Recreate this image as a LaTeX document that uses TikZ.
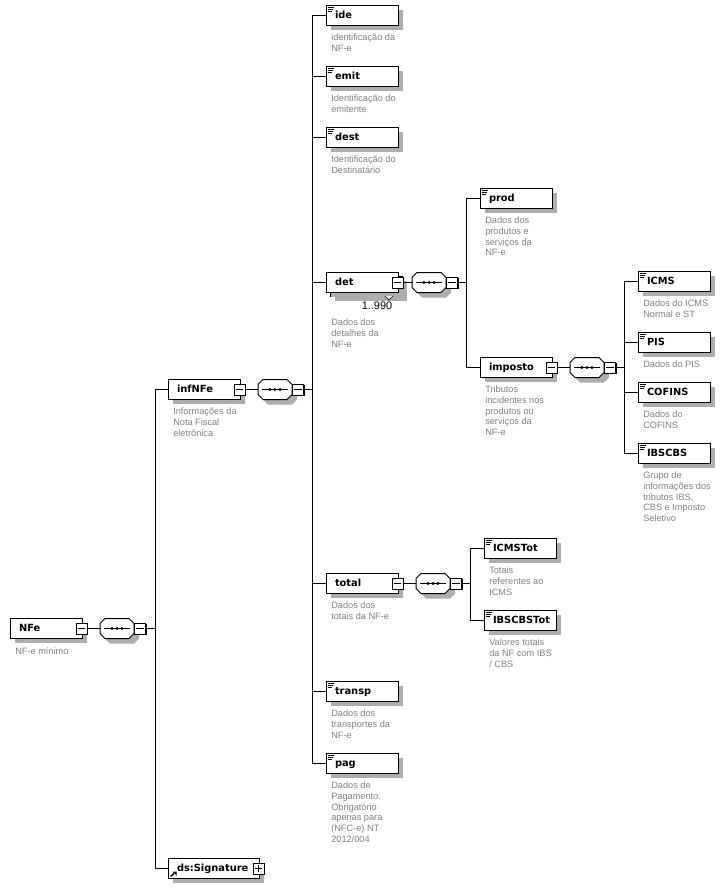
\documentclass[tikz,border=0pt]{standalone}
\usepackage{fontspec}
\setmainfont{Liberation Sans}
\newfontfamily\elemfont{DejaVu Sans}
\usetikzlibrary{shadows}
\newcommand{\seqshape}[1]{
	\begin{scope}[shift={(#1.center)}]
		\fill[black!32] (-7,-5) -- (17,-5) -- (22,0) -- (22,10) -- (17,15) -- (-7,15) -- (-12,10) -- (-12,0) -- cycle;
		\draw[conn,fill=white] (-12,-10) -- (12,-10) -- (17,-5) -- (17,5) -- (12,10) -- (-12,10) -- (-17,5) -- (-17,-5) -- cycle;
		\draw[conn] (-13,0) -- (13,0);
		\fill (-5,0) circle (1.2pt);
		\fill (0,0) circle (1.2pt);
		\fill (5,0) circle (1.2pt);
	\end{scope}
}
\tikzset{
	elem/.style={draw,fill=white,line width=.75pt,anchor=north west,outer sep=0pt,inner ysep=0pt,inner xsep=6.75pt,
		minimum width=54pt,minimum height=15pt,text width=40.5pt,text height=6.3pt,text depth=1pt,align=left,
		font=\elemfont\bfseries\fontsize{7.4}{9}\selectfont,
		drop shadow={shadow xshift=3.75pt,shadow yshift=-3.75pt,fill=black!32,opacity=1}},
	annot/.style={path picture={
		\draw[line width=.6pt] ([xshift=1.2pt,yshift=-1.5pt]path picture bounding box.north west) -- ++(4.5pt,0);
		\draw[line width=.6pt] ([xshift=1.2pt,yshift=-3pt]path picture bounding box.north west) -- ++(3.8pt,0);
		\draw[line width=.6pt] ([xshift=1.2pt,yshift=-4.5pt]path picture bounding box.north west) -- ++(3pt,0);
	}},
	descr/.style={anchor=north west,inner sep=0pt,align=left,text=black!50,font=\fontsize{6.9}{8}\selectfont},
	tog/.style={draw,fill=white,line width=.75pt,minimum size=8.25pt,inner sep=0pt,outer sep=0pt,
		drop shadow={shadow xshift=.75pt,shadow yshift=-.75pt,fill=black,opacity=1}},
	minusbox/.style={tog,path picture={
		\draw[line width=.75pt] ([xshift=-2.8pt]path picture bounding box.center) -- ([xshift=2.8pt]path picture bounding box.center);
	}},
	plusbox/.style={tog,path picture={
		\draw[line width=.75pt] ([xshift=-2.8pt]path picture bounding box.center) -- ([xshift=2.8pt]path picture bounding box.center);
		\draw[line width=.75pt] ([yshift=-2.8pt]path picture bounding box.center) -- ([yshift=2.8pt]path picture bounding box.center);
	}},
	seqbox/.style={minimum width=25.5pt,minimum height=15pt,inner sep=0pt,outer sep=0pt},
	conn/.style={line width=.75pt}
}
\begin{document}
\begin{tikzpicture}[x=0.75pt,y=-0.75pt]
	\useasboundingbox[fill=white] (0,0) rectangle (724,896);

	\coordinate (busRoot) at (155,628.5);
	\coordinate (busInf) at (312,389.5);
	\coordinate (busDet) at (466,282.5);
	\coordinate (busImp) at (624,367.5);
	\coordinate (busTot) at (470,583.5);

	\node[elem] (NFe) at (10,618) {NFe};
	\node[minusbox] (NFeMinus) at (81.5,628.5) {};
	\node[seqbox] (NFeSeq) at (117,628.5) {};
	\seqshape{NFeSeq}
	\node[minusbox] (NFeSeqMinus) at (140,628.5) {};
	\node[descr] (NFeTxt) at (15,647) {NF-e mínimo};

	\node[elem] (infNFe) at (168,379) {infNFe};
	\node[minusbox] (infMinus) at (239.5,389.5) {};
	\node[seqbox] (infSeq) at (275,389.5) {};
	\seqshape{infSeq}
	\node[minusbox] (infSeqMinus) at (298,389.5) {};
	\node[descr] (infTxt) at (173,408) {Informações da\\Nota Fiscal\\eletrônica};

	\node[elem,minimum width=68.25pt,text width=54.75pt] (sig) at (168,858) {ds:Signature};
	\node[plusbox] (sigPlus) at (258.5,868.5) {};
	\draw[line width=1pt] (170.5,876.5) -- (174,873.5);
	\fill (176.5,871.5) -- (176.5,875.5) -- (172.5,871.5) -- cycle;

	\node[elem,annot] (ide) at (326,5) {ide};
	\node[descr] (ideTxt) at (331,34) {identificação da\\NF-e};
	\node[elem,annot] (emit) at (326,66) {emit};
	\node[descr] (emitTxt) at (331,95) {Identificação do\\emitente};
	\node[elem,annot] (dest) at (326,127) {dest};
	\node[descr] (destTxt) at (331,156) {Identificação do\\Destinatário};

	\node[elem] (detBack) at (330,276) {};
	\node[elem] (det) at (326,272) {det};
	\fill[white] (385,296) -- (393,296) -- (389,300) -- cycle;
	\draw[line width=.5pt] (385,296) -- (389,300) -- (393,296);
	\node[minusbox] (detMinus) at (397.5,282.5) {};
	\node[seqbox] (detSeq) at (429,282.5) {};
	\seqshape{detSeq}
	\node[minusbox] (detSeqMinus) at (452,282.5) {};
	\node[inner sep=0pt,font=\fontsize{8.2}{10}\selectfont] (detNum) at (377,306) {1..990};
	\node[descr] (detTxt) at (331,319) {Dados dos\\detalhes da\\NF-e};

	\node[elem,annot] (prod) at (480,188) {prod};
	\node[descr] (prodTxt) at (485,217) {Dados dos\\produtos e\\serviços da\\NF-e};
	\node[elem] (imposto) at (480,357) {imposto};
	\node[minusbox] (impMinus) at (551.5,367.5) {};
	\node[seqbox] (impSeq) at (587,367.5) {};
	\seqshape{impSeq}
	\node[minusbox] (impSeqMinus) at (610,367.5) {};
	\node[descr] (impTxt) at (485,386) {Tributos\\incidentes nos\\produtos ou\\serviços da\\NF-e};

	\node[elem,annot] (ICMS) at (638,271) {ICMS};
	\node[descr] (icmsTxt) at (643,300) {Dados do ICMS\\Normal e ST};
	\node[elem,annot] (PIS) at (638,332) {PIS};
	\node[descr] (pisTxt) at (643,361) {Dados do PIS};
	\node[elem,annot] (COFINS) at (638,382) {COFINS};
	\node[descr] (cofinsTxt) at (643,411) {Dados do\\COFINS};
	\node[elem,annot] (IBSCBS) at (638,443) {IBSCBS};
	\node[descr] (ibsTxt) at (643,472) {Grupo de\\informações dos\\tributos IBS,\\CBS e Imposto\\Seletivo};

	\node[elem] (total) at (326,573) {total};
	\node[minusbox] (totMinus) at (397.5,583.5) {};
	\node[seqbox] (totSeq) at (433,583.5) {};
	\seqshape{totSeq}
	\node[minusbox] (totSeqMinus) at (456,583.5) {};
	\node[descr] (totTxt) at (331,602) {Dados dos\\totais da NF-e};

	\node[elem,annot] (ICMSTot) at (484,538) {ICMSTot};
	\node[descr] (icmsTotTxt) at (489,567) {Totais\\referentes ao\\ICMS};
	\node[elem,annot] (IBSCBSTot) at (484,610) {IBSCBSTot};
	\node[descr] (ibsTotTxt) at (489,639) {Valores totais\\da NF com IBS\\/ CBS};

	\node[elem,annot] (transp) at (326,681) {transp};
	\node[descr] (transpTxt) at (331,710) {Dados dos\\transportes da\\NF-e};
	\node[elem,annot] (pag) at (326,753) {pag};
	\node[descr] (pagTxt) at (331,782) {Dados de\\Pagamento.\\Obrigatório\\apenas para\\(NFC-e) NT\\2012/004};

	\draw[conn] (NFeMinus) -- (NFeSeq);
	\draw[conn] (NFeSeqMinus) -- (busRoot);
	\draw[conn] (infMinus) -- (infSeq);
	\draw[conn] (infSeqMinus) -- (busInf);
	\draw[conn] (detMinus) -- (detSeq);
	\draw[conn] (detSeqMinus) -- (busDet);
	\draw[conn] (impMinus) -- (impSeq);
	\draw[conn] (impSeqMinus) -- (busImp);
	\draw[conn] (totMinus) -- (totSeq);
	\draw[conn] (totSeqMinus) -- (busTot);

	\draw[conn] (busRoot) |- (infNFe);
	\draw[conn] (busRoot) |- (sig);
	\draw[conn] (busInf) |- (ide);
	\draw[conn] (busInf) |- (emit);
	\draw[conn] (busInf) |- (dest);
	\draw[conn] (busInf) |- (det);
	\draw[conn] (busInf) |- (total);
	\draw[conn] (busInf) |- (transp);
	\draw[conn] (busInf) |- (pag);
	\draw[conn] (busDet) |- (prod);
	\draw[conn] (busDet) |- (imposto);
	\draw[conn] (busImp) |- (ICMS);
	\draw[conn] (busImp) |- (PIS);
	\draw[conn] (busImp) |- (COFINS);
	\draw[conn] (busImp) |- (IBSCBS);
	\draw[conn] (busTot) |- (ICMSTot);
	\draw[conn] (busTot) |- (IBSCBSTot);
\end{tikzpicture}
\end{document}
